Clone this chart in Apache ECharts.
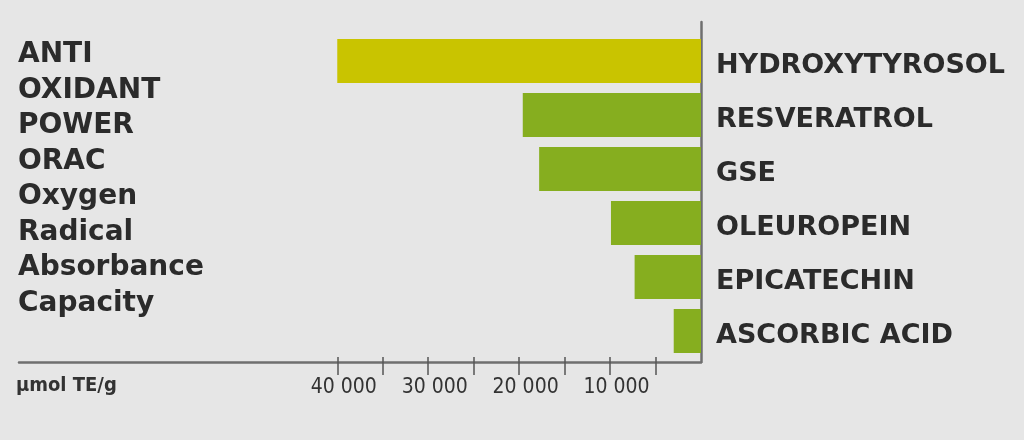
<!DOCTYPE html>
<html><head><meta charset="utf-8">
<script src="https://cdn.jsdelivr.net/npm/echarts@6/dist/echarts.min.js"></script>
<style>html,body{margin:0;padding:0;background:#e6e6e6;}#c{width:1024px;height:440px;}</style>
</head><body><div id="c"></div>
<script>
var categories = ['HYDROXYTYROSOL', 'RESVERATROL', 'GSE', 'OLEUROPEIN', 'EPICATECHIN', 'ASCORBIC ACID'];
var values = [40000, 19600, 17800, 9900, 7300, 3000];
var barColors = ['#c9c400', '#86ae1f', '#86ae1f', '#86ae1f', '#86ae1f', '#86ae1f'];
var tickValues = [5000, 10000, 15000, 20000, 25000, 30000, 35000, 40000];
var labelValues = [10000, 20000, 30000, 40000];
var sideText = ['ANTI', 'OXIDANT', 'POWER', 'ORAC', 'Oxygen', 'Radical', 'Absorbance', 'Capacity'];
var unitText = '\u00b5mol TE/g';

var chart = echarts.init(document.getElementById('c'), null, {renderer: 'canvas'});
var axisGray = '#6f6f6f';
chart.setOption({
  backgroundColor: '#e6e6e6',
  animation: false,
  title: [
    {text: sideText.join('\n'), left: 18, top: 37, padding: 0,
     textStyle: {fontFamily: 'DejaVu Sans', fontWeight: 'bold', fontSize: 28, lineHeight: 35.5, color: '#2b2b2b'}},
    {text: unitText, left: 16, top: 376, padding: 0,
     textStyle: {fontFamily: 'DejaVu Sans Condensed', fontWeight: 'bold', fontSize: 20, color: '#333'}}
  ],
  grid: [
    {left: 19, right: 323, top: 34, height: 324},
    {left: 19, right: 323, top: 22, bottom: 78}
  ],
  xAxis: [
    {gridIndex: 0, type: 'value', min: 0, max: 75000, inverse: true, show: false},
    {gridIndex: 1, type: 'value', min: 0, max: 75000, inverse: true, position: 'bottom',
     axisLine: {show: true, lineStyle: {color: axisGray, width: 2.5}},
     axisTick: {show: true, length: 13, customValues: tickValues, lineStyle: {color: '#555', width: 1.5}},
     axisLabel: {show: true, customValues: labelValues, margin: 15, padding: [0, 0, 0, 13],
       fontFamily: 'DejaVu Sans Condensed', fontSize: 21, color: '#333',
       formatter: function (v) { return String(v).replace(/\B(?=(\d{3})+(?!\d))/g, ' '); }},
     splitLine: {show: false}},
    {gridIndex: 1, type: 'value', min: 0, max: 75000, inverse: true, position: 'bottom',
     axisLine: {show: false},
     axisTick: {show: true, inside: true, length: 5, customValues: tickValues, lineStyle: {color: '#555', width: 1.5}},
     axisLabel: {show: false}, splitLine: {show: false}}
  ],
  yAxis: [
    {gridIndex: 0, type: 'category', data: categories, inverse: true, position: 'right',
     axisLine: {show: false}, axisTick: {show: false},
     axisLabel: {margin: 15,
       formatter: function (v) { return '{a|' + v + '}'; },
       rich: {a: {padding: [10, 0, 0, 0], fontFamily: 'DejaVu Sans', fontWeight: 'bold', fontSize: 27, color: '#2b2b2b'}}}},
    {gridIndex: 1, type: 'value', position: 'right', min: 0, max: 1,
     axisLine: {show: true, lineStyle: {color: axisGray, width: 2.5}},
     axisTick: {show: false}, axisLabel: {show: false}, splitLine: {show: false}}
  ],
  series: [{
    type: 'bar', xAxisIndex: 0, yAxisIndex: 0, barWidth: 44,
    data: values.map(function (v, i) { return {value: v, itemStyle: {color: barColors[i]}}; }),
    z: 1
  }]
});
</script></body></html>
